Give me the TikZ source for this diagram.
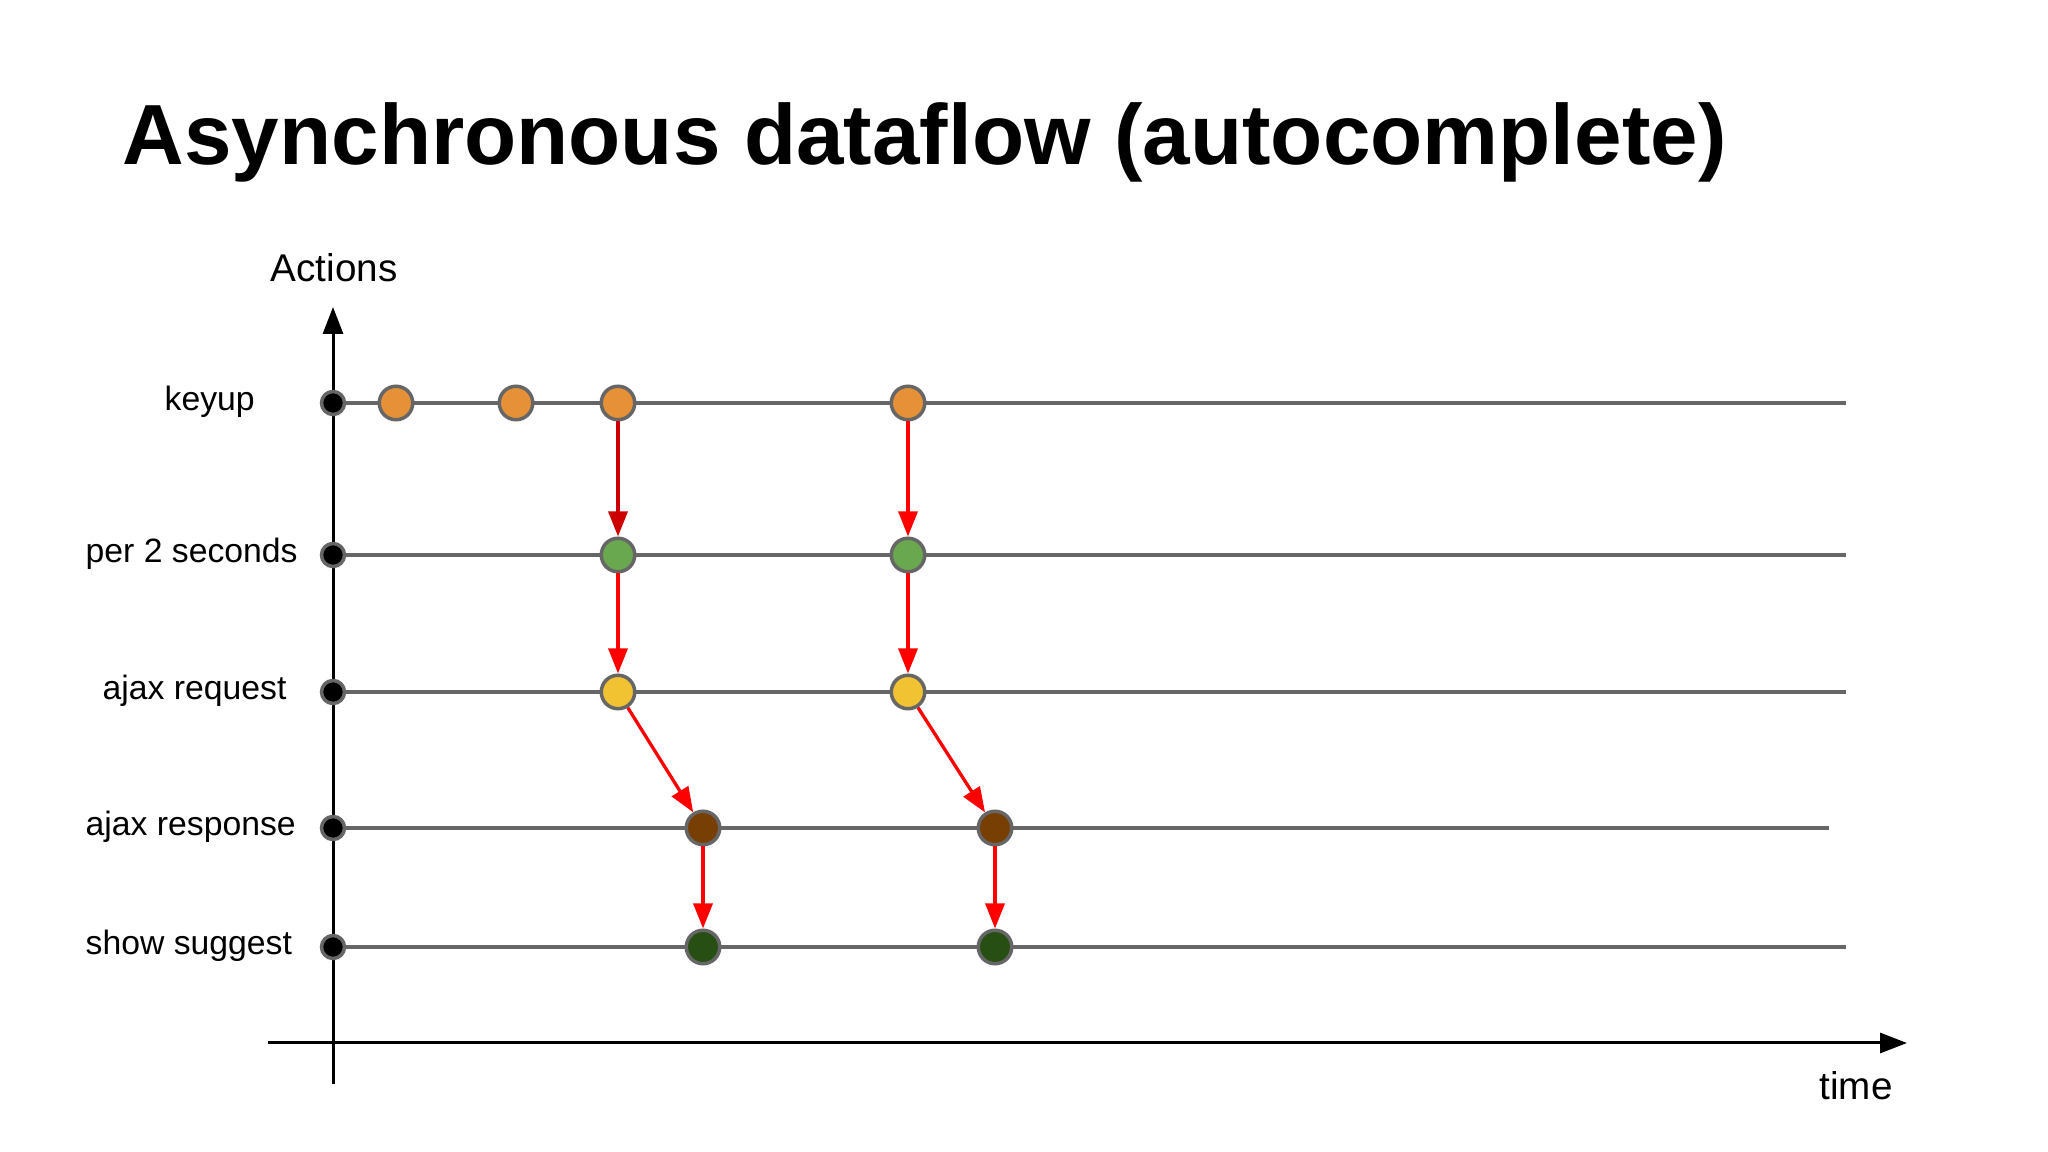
\documentclass[tikz,border=0pt]{standalone}
\usepackage{fontspec}
\setmainfont{Liberation Sans}
\usepackage{tikz}
\usetikzlibrary{positioning}
\usetikzlibrary{shapes,arrows.meta,backgrounds}
\definecolor{evgray}{HTML}{666666}
\definecolor{keyorange}{HTML}{E69138}
\definecolor{tickgreen}{HTML}{6AA84F}
\definecolor{reqyellow}{HTML}{F1C232}
\definecolor{respbrown}{HTML}{783F04}
\definecolor{showgreen}{HTML}{274E13}
\definecolor{firstred}{HTML}{CC0000}
\tikzstyle{novertex} = [draw=none, fill=none, inner sep=0pt, font=\fontsize{9.6}{11}\selectfont]
\tikzstyle{event} = [circle, draw=evgray, line width=0.35mm, minimum size=3.35mm, inner sep=0pt]
\tikzstyle{origin} = [circle, draw=evgray, fill=black, line width=0.35mm, minimum size=2.3mm, inner sep=0pt]
\tikzstyle{timeline} = [draw=evgray, line width=0.33mm]
\tikzstyle{axis} = [draw, line width=0.3mm, -{Triangle[length=2.7mm,width=2mm]}]
\tikzstyle{high} = [draw=red, line width=0.33mm, -{Triangle[length=2.5mm,width=1.9mm]}]

\begin{document}
\begin{tikzpicture}[x=0.1mm, y=-0.1mm]
	\useasboundingbox (0,0) rectangle (2048,1152);
	% title node
	\node [novertex, anchor=base west, font=\fontsize{24.3}{30}\selectfont\bfseries] (T0) at (122,165) {Asynchronous dataflow (autocomplete)};
	\node [novertex, anchor=base, font=\fontsize{11}{13}\selectfont] (T1) at (334,282) {Actions};
	\node [novertex, anchor=base, font=\fontsize{11}{13}\selectfont] (T2) at (1856,1100) {time};

	% axes and line ends
	\coordinate (Y0) at (333,1084);
	\coordinate (Y1) at (333,307);
	\coordinate (X0) at (268,1043);
	\coordinate (X1) at (1907,1043);
	\coordinate (E1) at (1846,403);
	\coordinate (E2) at (1846,555);
	\coordinate (E3) at (1846,692);
	\coordinate (E4) at (1829,828);
	\coordinate (E5) at (1846,947);

	% row labels
	\node [novertex, anchor=base west] (L1) at (164,411) {keyup};
	\node [novertex, anchor=base west] (L2) at (85,563) {per 2 seconds};
	\node [novertex, anchor=base west] (L3) at (102,700) {ajax request};
	\node [novertex, anchor=base west] (L4) at (85,836) {ajax response};
	\node [novertex, anchor=base west] (L5) at (85,955) {show suggest};

	% place nodes
	\node [origin] (D1) at (333,403) {};
	\node [origin] (D2) at (333,555) {};
	\node [origin] (D3) at (333,692) {};
	\node [origin] (D4) at (333,828) {};
	\node [origin] (D5) at (333,947) {};
	\node [event, fill=keyorange] (K1) at (396,403) {};
	\node [event, fill=keyorange] (K2) at (516,403) {};
	\node [event, fill=keyorange] (K3) at (618,403) {};
	\node [event, fill=keyorange] (K4) at (908,403) {};
	\node [event, fill=tickgreen, below of=K3, node distance=15.2mm] (P1) {};
	\node [event, fill=tickgreen, below of=K4, node distance=15.2mm] (P2) {};
	\node [event, fill=reqyellow, below of=P1, node distance=13.7mm] (Q1) {};
	\node [event, fill=reqyellow, below of=P2, node distance=13.7mm] (Q2) {};
	\node [event, fill=respbrown] (R1) at (703,828) {};
	\node [event, fill=respbrown] (R2) at (995,828) {};
	\node [event, fill=showgreen, below of=R1, node distance=11.9mm] (S1) {};
	\node [event, fill=showgreen, below of=R2, node distance=11.9mm] (S2) {};

	% draw axes and timelines
	\begin{scope}[on background layer]
		\path [axis] (Y0) -- (Y1);
		\path [axis] (X0) -- (X1);
		\path [timeline] (D1) -- (E1);
		\path [timeline] (D2) -- (E2);
		\path [timeline] (D3) -- (E3);
		\path [timeline] (D4) -- (E4);
		\path [timeline] (D5) -- (E5);
	\end{scope}

	% draw edges
	\path [high, draw=firstred] (K3) -- (P1);
	\path [high] (K4) -- (P2);
	\path [high] (P1) -- (Q1);
	\path [high] (P2) -- (Q2);
	\path [high] (Q1) -- (R1);
	\path [high] (Q2) -- (R2);
	\path [high] (R1) -- (S1);
	\path [high] (R2) -- (S2);
\end{tikzpicture}
\end{document}
